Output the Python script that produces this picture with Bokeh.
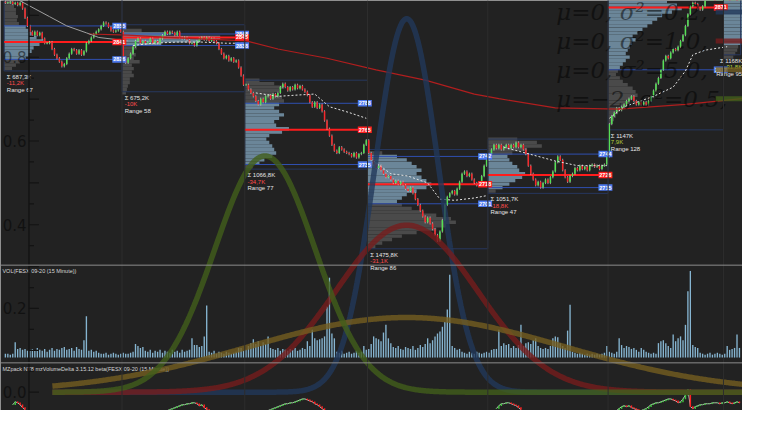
import numpy as np
from bokeh.plotting import figure
from bokeh.models import Range1d, Span
from bokeh.core.properties import value
from bokeh.embed import file_html
from bokeh.resources import INLINE

# ---------------- FESX 09-20, 15 minute closes, one list per session ----------------
close_s1 = [2875, 2875, 2876, 2874, 2875, 2873, 2875, 2870, 2862, 2855,
            2850, 2847, 2850, 2847, 2849, 2844, 2840, 2840, 2841, 2835,
            2830, 2827, 2824, 2820, 2822, 2827, 2831, 2835, 2834, 2831,
            2834, 2830, 2833, 2840, 2842, 2845, 2848, 2850, 2852, 2855,
            2858, 2857, 2854, 2851, 2850, 2851, 2852, 2850]
close_s2 = [2825, 2823, 2827, 2831, 2837, 2842, 2844, 2840, 2842, 2840,
            2841, 2844, 2840, 2842, 2840, 2844, 2847, 2850, 2848, 2850,
            2849, 2847, 2850, 2845, 2844, 2845, 2843, 2840, 2840, 2838,
            2842, 2844, 2845, 2843, 2845, 2842, 2844, 2842, 2840, 2835,
            2831, 2827, 2829, 2825, 2827, 2824, 2825, 2819, 2812, 2804]
close_s3 = [2804, 2800, 2797, 2794, 2790, 2787, 2792, 2789, 2794, 2795,
            2792, 2796, 2794, 2797, 2802, 2805, 2802, 2799, 2802, 2800,
            2804, 2801, 2803, 2800, 2798, 2795, 2789, 2785, 2789, 2784,
            2787, 2781, 2773, 2766, 2760, 2752, 2747, 2745, 2750, 2748,
            2746, 2745, 2744, 2742, 2745, 2741, 2744, 2745, 2752, 2756]
close_s4 = [2745, 2739, 2735, 2732, 2734, 2730, 2727, 2724, 2725, 2722,
            2719, 2721, 2718, 2720, 2717, 2714, 2712, 2715, 2710, 2705,
            2700, 2695, 2690, 2685, 2689, 2684, 2679, 2674, 2669, 2677,
            2687, 2700, 2707, 2710, 2712, 2709, 2714, 2720, 2727, 2729,
            2725, 2727, 2722, 2719, 2717, 2719, 2725, 2734, 2739]
close_s5 = [2744, 2748, 2752, 2749, 2752, 2748, 2750, 2752, 2749, 2752,
            2750, 2754, 2750, 2752, 2748, 2744, 2734, 2727, 2722, 2717,
            2720, 2715, 2719, 2722, 2719, 2724, 2729, 2737, 2742, 2739,
            2730, 2724, 2720, 2725, 2727, 2732, 2730, 2734, 2731, 2733,
            2730, 2734, 2735, 2733, 2734, 2731, 2734, 2735, 2742]
close_s6 = [2770, 2777, 2780, 2784, 2782, 2785, 2787, 2790, 2792, 2794,
            2790, 2787, 2789, 2787, 2789, 2787, 2790, 2794, 2799, 2805,
            2810, 2817, 2825, 2829, 2827, 2832, 2835, 2834, 2837, 2842,
            2847, 2855, 2865, 2872, 2875, 2874, 2870, 2869, 2872, 2880,
            2885, 2889, 2894, 2892, 2895, 2898, 2900, 2902]
close_s7 = [2905, 2903, 2907, 2910, 2908, 2912]

volume = [400, 400, 300, 400, 1600, 900, 1000, 800, 900, 700,
          800, 900, 700, 1000, 800, 700, 900, 600, 800, 1000,
          700, 900, 800, 1000, 1100, 800, 900, 1000, 700, 1100,
          900, 800, 1800, 4300, 700, 800, 600, 700, 500, 400,
          400, 500, 300, 400, 500, 400, 300, 400, 500, 400,
          400, 500, 600, 1400, 1200, 1000, 1100, 700, 600, 800,
          500, 700, 600, 800, 500, 700, 600, 500, 800, 600,
          700, 500, 800, 600, 700, 800, 2000, 1300, 1300, 1100,
          1200, 2200, 5400, 600, 500, 700, 400, 600, 500, 400,
          600, 500, 400, 500, 600, 1000, 1000, 700, 800, 1200,
          1500, 1900, 1400, 1700, 1200, 1600, 1400, 2200, 1000, 900,
          800, 1000, 700, 900, 800, 700, 900, 800, 1000, 700,
          800, 1000, 900, 1700, 1200, 2900, 2000, 1800, 1900, 2000,
          2200, 5300, 8300, 2500, 2000, 600, 500, 700, 400, 500,
          600, 400, 500, 700, 500, 600, 1200, 800, 900, 1400,
          2200, 2000, 1900, 1700, 2600, 3400, 2000, 1500, 1100, 1000,
          1200, 900, 800, 1100, 1000, 900, 1200, 800, 1000, 1300,
          1100, 1400, 2000, 1500, 1800, 2200, 2500, 2700, 3200, 3700,
          5000, 8600, 1200, 1000, 800, 900, 600, 500, 400, 600,
          500, 400, 600, 500, 400, 500, 600, 500, 800, 900,
          900, 2900, 1200, 1500, 1300, 1400, 1000, 1200, 1000, 1300,
          3400, 1200, 1500, 1600, 1400, 1800, 2000, 1200, 1000, 900,
          1000, 900, 1200, 2000, 2200, 2100, 1500, 1200, 1000, 2800,
          5500, 600, 500, 400, 500, 400, 300, 400, 300, 400,
          300, 400, 300, 400, 500, 1200, 600, 500, 400, 600,
          2000, 1300, 1000, 1200, 1100, 900, 1000, 800, 600, 1000,
          800, 600, 500, 400, 500, 400, 1500, 1700, 1800, 1500,
          1200, 1000, 2400, 1700, 2000, 2200, 1800, 3400, 6900, 9000,
          1300, 1100, 1000, 500, 400, 300, 400, 500, 300, 400,
          500, 400, 300, 400, 1200, 800, 900, 1000, 2400, 1000]

# cumulative delta where it is visible in the bottom panel (start bar -> values)
delta_segments = {
    3: [-3600, -3000, -3200, -3600, -4200, -4600],
    66: [-4800, -4600, -4400, -4200, -4000, -3800, -3600, -3600, -3400, -3400,
         -3200, -3200, -3400, -3800, -3600, -4200, -4600, -5000],
    107: [-4800, -4600, -4400, -4200, -4000, -3800, -3600, -3400, -3400, -3200,
          -3200, -3000, -2800, -2600, -2400, -2400, -2600, -2800, -3000, -3400,
          -3600, -4000, -4400, -4800],
    200: [-4400, -3800, -3400, -3400, -3200, -3200, -3400, -3600, -3800, -4200, -4600],
    249: [-4800, -4400, -4000, -3800, -4000, -3800, -4200, -4400, -4600, -4800,
          -4800, -4600, -4400, -4000, -3600, -3400, -3200, -3200, -3000, -2800,
          -2600, -2400, -2400, -2600, -2800, -3200, -3000, -2400, -1600, -400,
          -4000, -4400, -4000, -3800, -3600, -3600, -3400, -3400, -3400, -3200,
          -3200, -3200, -3400, -3200, -3200, -3000, -3200, -3400, -3200, -3000, -3200],
}

# sessions
session_start = [0, 48, 98, 148, 197, 246, 293]
session_end = [47, 97, 147, 196, 245, 292, 299]
session_low = [2816, 2798, 2731, 2662, 2710, 2765, 2830]
session_range = [67, 58, 77, 86, 47, 128, 95]
session_vah = [2855, 2848, 2788, 2742, 2744, 2900, 2900]
session_poc = [2841, 2845, 2765, 2718, 2726, 2871, None]
session_val = [2826, 2838, 2735, 2701, 2715, 2817, 2840]
session_total = ["Σ 687,3K", "Σ 675,2K", "Σ 1066,8K", "Σ 1475,8K", "Σ 1051,7K", "Σ 1147K", "Σ 1168K"]
session_delta = ["-11,2K", "-10K", "-34,7K", "-31,1K", "-18,8K", "7,9K", "31,8K"]

# volume profiles (K contracts per 3-point level, from the top level down)
profile_top = [2875, 2851, 2808, 2745, 2757, 2876, 2876]
profile_step = 3
profiles = [
    [8, 10, 12, 12, 14, 13, 15, 22, 25, 28, 33, 40, 36, 30, 28, 25, 22, 16, 12, 8],
    [20, 45, 100, 80, 40, 15, 12, 14, 12, 18, 10, 12, 10, 12, 8, 8, 6, 5, 4],
    [15, 30, 40, 35, 30, 38, 40, 35, 30, 35, 40, 35, 30, 32, 45, 38, 25, 22, 25, 28,
     30, 32, 28, 20, 15, 8],
    [15, 30, 40, 45, 50, 55, 50, 55, 60, 65, 60, 50, 40, 35, 30, 35, 45, 55, 70, 85,
     90, 80, 70, 50, 35, 25, 15, 8],
    [30, 50, 55, 40, 25, 20, 22, 25, 30, 32, 38, 35, 28, 22, 15, 8],
    [60, 70, 75, 65, 55, 50, 45, 40, 35, 30, 25, 28, 24, 22, 20, 18, 22, 18, 15, 12,
     10, 8, 12, 15, 20, 25, 28, 30, 25, 22, 18, 12, 10, 8, 6, 4],
    [25, 28, 30, 32, 30, 28, 26, 30, 28, 25, 22, 20, 18, 15, 14, 12, 10],
]

# moving average and session VWAPs (bar index, price)
ma_slow_idx = [34, 50, 66, 98, 111, 131, 151, 171, 191, 201, 224, 250, 277, 300]
ma_slow = [2848, 2847, 2845, 2842, 2835, 2827, 2817, 2808, 2796, 2792, 2784, 2783, 2787, 2792]
ma_gray_idx = [4, 18, 25, 33, 38, 50]
ma_gray = [2879, 2863, 2855, 2849, 2845, 2842]
vwaps = [
    ([52, 60, 70, 80, 90, 97], [2838, 2840, 2841, 2841, 2840, 2840]),
    ([102, 111, 118, 126, 132, 140, 147], [2797, 2794, 2795, 2796, 2785, 2780, 2775]),
    ([150, 157, 164, 172, 177, 183, 191, 196], [2738, 2727, 2725, 2719, 2705, 2704, 2706, 2708]),
    ([203, 210, 224, 233, 245], [2750, 2746, 2738, 2734, 2734]),
    ([246, 252, 264, 272, 277, 280, 285, 294], [2775, 2785, 2794, 2802, 2816, 2830, 2834, 2837]),
]

# overlaid normal distributions
norm_mu = [0.0, 0.0, 0.0, -2.0]
norm_sigma2 = [0.2, 1.0, 5.0, 0.5]
norm_labels = ["μ=0,  σ²=0.2,", "μ=0,  σ²=1.0,", "μ=0,  σ²=5.0,", "μ=−2, σ²=0.5,"]
norm_colors = ["#22385a", "#761d1d", "#745e21", "#425f1c"]
norm_yticks = [0.0, 0.2, 0.4, 0.6, 0.8]

panel_titles = ["VOL(FESX 09-20 (15 Minute))",
                "MZpack NT8 mzVolumeDelta 3.15.12 beta(FESX 09-20 (15 Minute))"]

# ---------------- figure ----------------
BG = "#222222"
FONT = value("Liberation Sans")
p = figure(width=742, height=410, x_range=Range1d(-1.99, 300.24), y_range=Range1d(2522, 2877),
           output_backend="svg", toolbar_location=None, min_border=0,
           x_axis_location=None, y_axis_location=None,
           background_fill_color=BG, border_fill_color=BG, outline_line_color=None)
p.grid.visible = False
p.extra_y_ranges = {"vol": Range1d(-5500, 37100), "delta": Range1d(-4800, 80400),
                    "ny": Range1d(-0.0437, 0.9356), "panel": Range1d(426, 0)}
p.extra_x_ranges = {"nx": Range1d(-5.732, 4.738)}

c = np.array(close_s1 + close_s2 + close_s3 + close_s4 + close_s5 + close_s6 + close_s7, float)
n = len(c)
idx = np.arange(n)
o = np.r_[c[0] + 1, c[:-1]]
hi = np.maximum(o, c) + 1
lo = np.minimum(o, c) - 1
btop = np.maximum(o, c)
bbot = np.minimum(o, c)
same = btop == bbot
btop = np.where(same, btop + 0.4, btop)
bbot = np.where(same, bbot - 0.4, bbot)
up = c >= o

# faint session separators
for s in session_start[1:]:
    p.add_layout(Span(location=s - 0.5, dimension="height", line_color="#2d2d2d", line_width=1))

# profiles
VA_COL, OUT_COL = "#7391a6", "#4f4f4f"
for k, prof in enumerate(profiles):
    levels = profile_top[k] - profile_step * np.arange(len(prof))
    cols = [VA_COL if session_val[k] <= lv <= session_vah[k] else OUT_COL for lv in levels]
    left = session_start[k] - 0.5
    p.hbar(y=levels, height=profile_step * 0.98, left=left,
           right=left + np.array(prof) * 0.4, fill_color=cols, line_color=None, fill_alpha=0.9)

# session boxes
p.quad(left=[s - 0.5 for s in session_start], right=[e + 0.5 for e in session_end],
       bottom=session_low, top=[l + r for l, r in zip(session_low, session_range)],
       fill_color=None, line_color="#27375e", line_width=1)

# value area and POC lines
for k in range(6):
    x0, x1 = session_start[k] - 0.5, session_end[k] + 0.5
    p.segment([x0, x0], [session_vah[k], session_val[k]], [x1, x1], [session_vah[k], session_val[k]],
              line_color="#2f4fb0", line_width=1)
    p.segment([x0], [session_poc[k]], [x1], [session_poc[k]], line_color="#ff1c1c", line_width=2)

# candles
p.segment(idx, hi, idx, lo, line_color="#cfcfcf", line_width=0.7)
p.vbar(x=idx[up], width=0.62, top=btop[up], bottom=bbot[up], fill_color="#55e055", line_color=None)
p.vbar(x=idx[~up], width=0.62, top=btop[~up], bottom=bbot[~up], fill_color="#f5282b", line_color=None)

# moving averages and vwaps
p.line(ma_slow_idx, ma_slow, line_color="#b01e1e", line_width=1.2)
p.line(ma_gray_idx, ma_gray, line_color="#a0a0a0", line_width=1)
for vx, vy in vwaps:
    p.line(vx, vy, line_color="#e4e4e4", line_width=1, line_dash="2 2")

# price labels
lx, ly, lt, lc = [], [], [], []
for k in range(6):
    for price, col in ((session_vah[k], "#4d79ee"), (session_poc[k], "#ff1f1f"), (session_val[k], "#4d79ee")):
        if price is not None and price < 2876:
            lx.append(session_end[k] - 0.6)
            ly.append(price)
            lt.append(str(price))
            lc.append(col)
p.rect(x=lx, y=ly, width=14, height=6.5, width_units="screen", height_units="screen",
       fill_color=lc, line_color=None)
p.text(x=lx, y=ly, text=lt, text_align="center", text_baseline="middle", text_font=FONT,
       text_font_size="5.5px", text_font_style="bold", text_color="white")

# session info (the last, still running session is pinned to the right edge)
ix = [s + 0.6 for s in session_start[:-1]] + [n + 0.1]
ialign = ["left"] * (len(session_start) - 1) + ["right"]
dcol = ["#ff4d4d" if d.startswith("-") else "#b4d23c" for d in session_delta]
for rows, off, cols in ((session_total, 6, "#e6e6e6"), (session_delta, 12.5, dcol),
                        (["Range %d" % r for r in session_range], 19, "#e6e6e6")):
    p.text(x=ix, y=session_low, text=rows, y_offset=off, text_align=ialign, text_baseline="middle",
           text_font=FONT, text_font_size="6px", text_color=cols)

# volume panel
p.vbar(x=idx, width=0.55, top=volume, bottom=0, y_range_name="vol",
       fill_color="#86b5d1", line_color=None)

# delta panel
dvals = np.full(n, np.nan)
for s, seg in delta_segments.items():
    dvals[s:s + len(seg)] = seg
p.line(idx, dvals, y_range_name="delta", line_color="#bdbdbd", line_width=1)
for s, seg in delta_segments.items():
    seg = np.array(seg, float)
    prev = np.r_[seg[0], seg[:-1]]
    xi = np.arange(s, s + len(seg))
    upd = seg >= prev
    p.vbar(x=xi[upd], width=0.6, top=np.maximum(seg, prev)[upd] + 60, bottom=np.minimum(seg, prev)[upd] - 60,
           y_range_name="delta", fill_color="#3ec43e", line_color=None)
    p.vbar(x=xi[~upd], width=0.6, top=np.maximum(seg, prev)[~upd] + 60, bottom=np.minimum(seg, prev)[~upd] - 60,
           y_range_name="delta", fill_color="#ff2020", line_color=None)

# panel dividers and titles
for loc in (275, 376.5):
    p.add_layout(Span(location=loc, dimension="width", y_range_name="panel",
                      line_color="#8c8c8c", line_width=1))
p.text(x=[-1.2, -1.2], y=[281, 383], text=panel_titles, y_range_name="panel",
       text_baseline="middle", text_font=FONT, text_font_size="5.5px", text_color="#d6d6d6")

# ---------------- normal distribution overlay ----------------
xs = np.linspace(-5, 5, 601)
for mu, s2, col in zip(norm_mu, norm_sigma2, norm_colors):
    ys = np.exp(-(xs - mu) ** 2 / (2 * s2)) / np.sqrt(2 * np.pi * s2)
    p.line(xs, ys, x_range_name="nx", y_range_name="ny", line_color=col, line_width=5.5, line_alpha=0.8)

axis_x = -5.33
p.segment([axis_x], [-0.06], [axis_x], [0.95], x_range_name="nx", y_range_name="ny",
          line_color="#131313", line_width=1.5)
tv = np.round(np.arange(0, 0.951, 0.05), 2)
major = np.isclose(np.round(tv * 10) / 10, tv)
p.segment(np.full(len(tv), axis_x), tv, axis_x + np.where(major, 0.14, 0.07), tv,
          x_range_name="nx", y_range_name="ny", line_color="#131313", line_width=1.2)
p.text(x=[axis_x - 0.035] * len(norm_yticks), y=norm_yticks, text=["%.1f" % t for t in norm_yticks],
       x_range_name="nx", y_range_name="ny", text_align="right", text_baseline="middle",
       text_font=value("DejaVu Sans"), text_font_size="15px", text_color="#000000", text_alpha=0.5)

leg_x, leg_y0, leg_dy = 2.11, 0.908, 0.069
leg_y = [leg_y0 - leg_dy * k for k in range(4)]
p.text(x=[leg_x] * 4, y=leg_y, text=norm_labels, x_range_name="nx", y_range_name="ny",
       text_baseline="middle", text_font=value("DejaVu Serif"), text_font_style="italic",
       text_font_size="23px", text_color="#000000", text_alpha=0.5)
p.segment([4.36] * 4, leg_y, [4.9] * 4, leg_y, x_range_name="nx", y_range_name="ny",
          line_color=norm_colors, line_width=5, line_alpha=0.8)

open("out.html", "w").write(file_html(p, INLINE))
